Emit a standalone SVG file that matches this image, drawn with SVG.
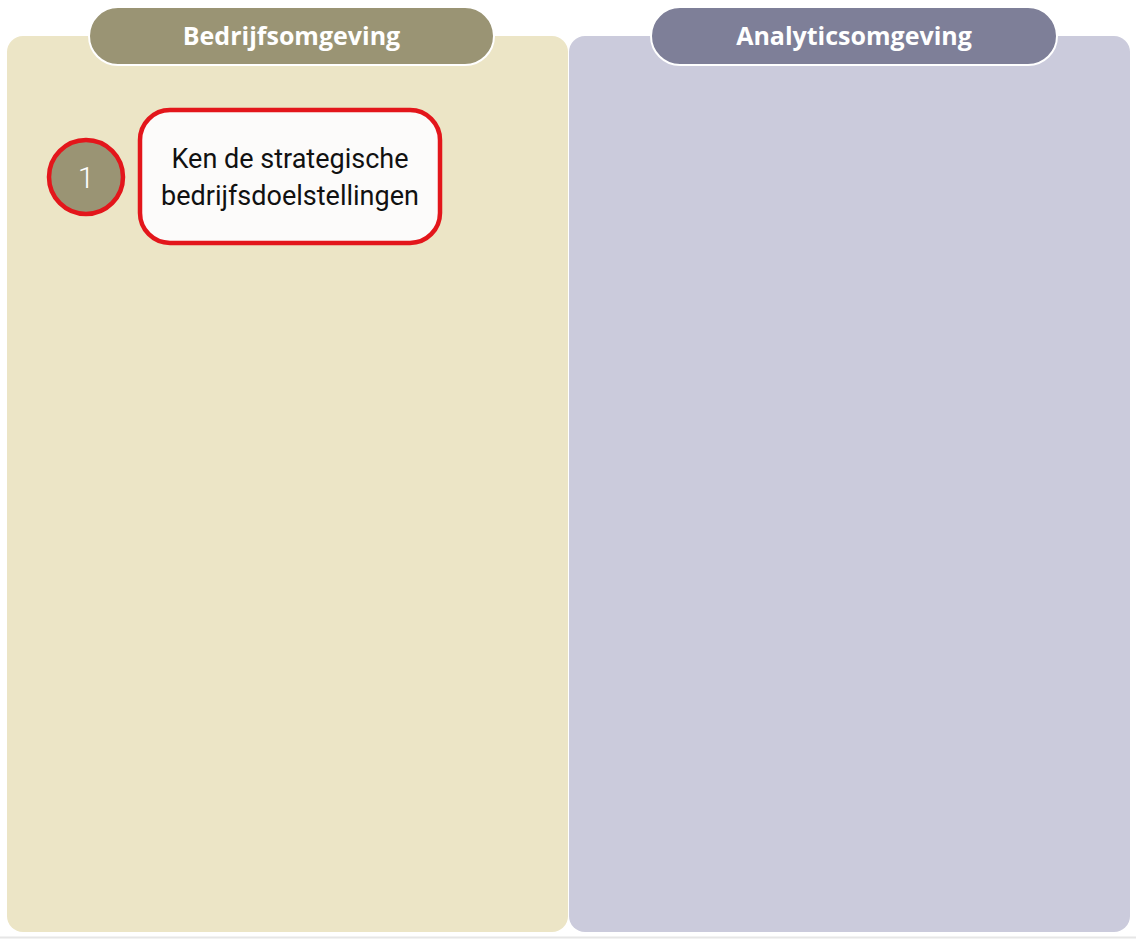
<svg xmlns="http://www.w3.org/2000/svg" width="1136" height="939" viewBox="0 0 1136 939">
<style>
.panel{stroke:none}
.hdr{stroke:#ffffff;stroke-width:2}
.hdrtxt{font-family:"Open Sans","Noto Sans",sans-serif;font-weight:700;font-size:25px;fill:#ffffff;text-anchor:middle}
.body{font-family:Roboto,"Liberation Sans",sans-serif;font-size:27px;fill:#111111;text-anchor:middle}
.red{stroke:#e3161b;stroke-width:4.5}
</style>
<rect x="0" y="0" width="1136" height="939" fill="#ffffff"/>
<line x1="0" y1="937.5" x2="1136" y2="937.5" stroke="#e6e6e6" stroke-width="2"/>
<g id="panel-bedrijf">
<rect class="panel" x="7" y="36" width="561" height="896" rx="16" fill="#ece5c6"/>
</g>
<g id="panel-analytics">
<rect class="panel" x="569" y="36" width="561" height="896" rx="16" fill="#cbcbdc"/>
</g>
<g id="header-bedrijf">
<rect class="hdr" x="89" y="7" width="405" height="58" rx="29" fill="#9a9474"/>
<text class="hdrtxt" x="291.5" y="45">Bedrijfsomgeving</text>
</g>
<g id="header-analytics">
<rect class="hdr" x="651" y="7" width="406" height="58" rx="29" fill="#7e7f98"/>
<text class="hdrtxt" x="854" y="45">Analyticsomgeving</text>
</g>
<g id="step1-badge">
<circle class="red" cx="86" cy="177" r="37" fill="#9a9474"/>
<text x="86" y="188" font-family="Roboto, Liberation Sans, sans-serif" font-size="30" font-weight="300" fill="#ffffff" text-anchor="middle">1</text>
</g>
<g id="step1-box">
<rect class="red" x="140" y="110" width="300" height="133" rx="30" fill="#fcfbfa"/>
<text class="body" x="290" y="168">Ken de strategische</text>
<text class="body" x="290" y="205">bedrijfsdoelstellingen</text>
</g>
<g id="connectors"></g>
</svg>
